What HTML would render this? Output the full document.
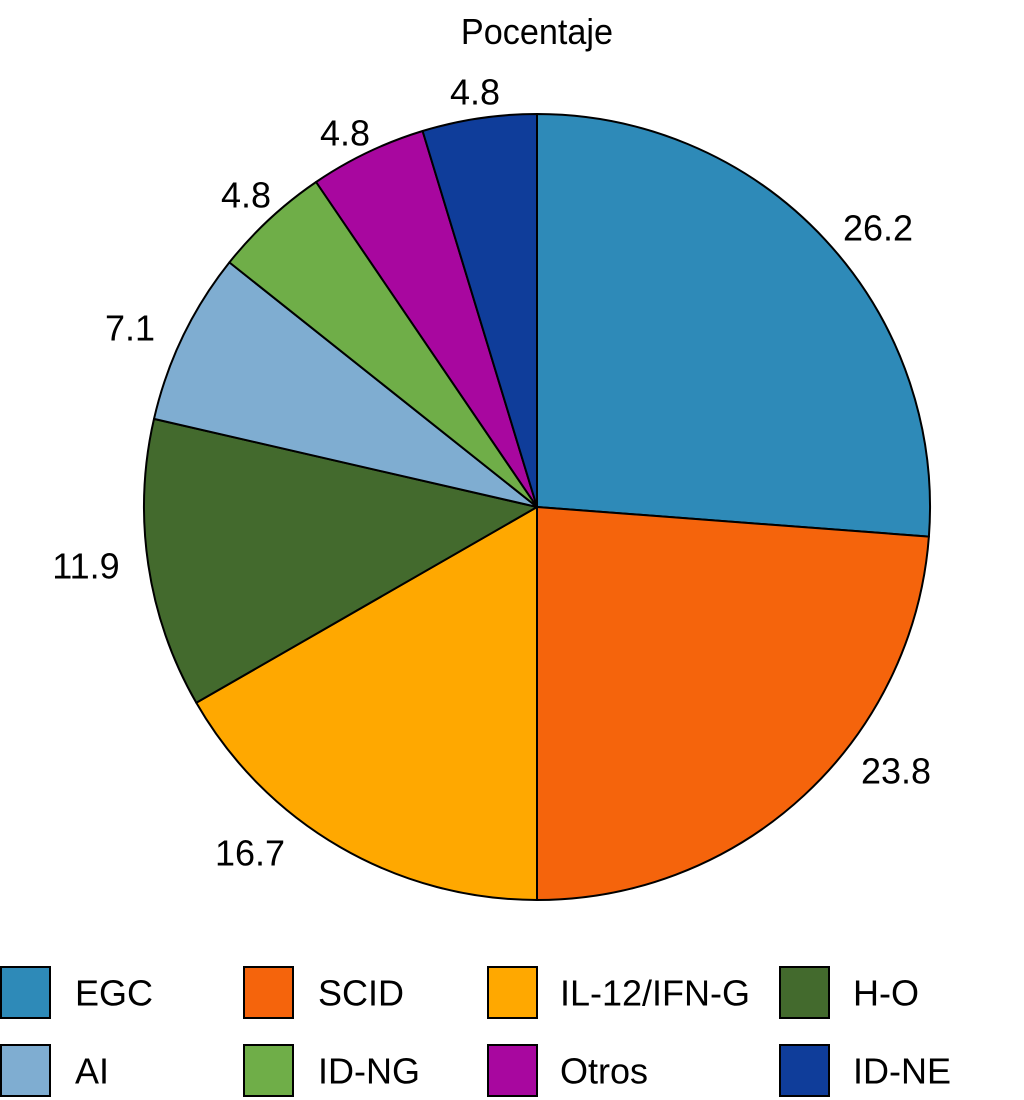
<!DOCTYPE html>
<html><head><style>body{margin:0;background:#fff}svg{display:block}text{font-family:"Liberation Sans",sans-serif;font-size:36px;fill:#000}</style></head>
<body>
<svg width="1024" height="1100" viewBox="0 0 1024 1100">
<g stroke="#000" stroke-width="2" stroke-linejoin="round">
<path d="M537,507 L537,114 A393,393 0 0 1 928.9,536.6 Z" fill="#2E8AB8"/>
<path d="M537,507 L928.9,536.6 A393,393 0 0 1 537,900 Z" fill="#F5640C"/>
<path d="M537,507 L537,900 A393,393 0 0 1 196.3,702.8 Z" fill="#FFA800"/>
<path d="M537,507 L196.3,702.8 A393,393 0 0 1 154,418.9 Z" fill="#436A2D"/>
<path d="M537,507 L154,418.9 A393,393 0 0 1 229.4,262.4 Z" fill="#7FADD1"/>
<path d="M537,507 L229.4,262.4 A393,393 0 0 1 316.1,182 Z" fill="#6FAE48"/>
<path d="M537,507 L316.1,182 A393,393 0 0 1 422.6,131 Z" fill="#A8079F"/>
<path d="M537,507 L422.6,131 A393,393 0 0 1 537,114 Z" fill="#0F3D9A"/>
</g>
<g text-anchor="middle" dominant-baseline="central">
<text x="537" y="32" transform="translate(537,0) scale(0.95,1) translate(-537,0)">Pocentaje</text>
<text x="475" y="92">4.8</text>
<text x="345" y="133">4.8</text>
<text x="246" y="195">4.8</text>
<text x="130" y="328">7.1</text>
<text x="86" y="566">11.9</text>
<text x="250" y="853">16.7</text>
<text x="896" y="771">23.8</text>
<text x="878" y="228">26.2</text>
</g>
<g stroke="#000" stroke-width="2">
<rect x="1" y="967" width="49" height="51" fill="#2E8AB8"/>
<rect x="244" y="967" width="49" height="51" fill="#F5640C"/>
<rect x="488" y="967" width="49" height="51" fill="#FFA800"/>
<rect x="780" y="967" width="49" height="51" fill="#436A2D"/>
<rect x="1" y="1045" width="49" height="51" fill="#7FADD1"/>
<rect x="244" y="1045" width="49" height="51" fill="#6FAE48"/>
<rect x="488" y="1045" width="49" height="51" fill="#A8079F"/>
<rect x="780" y="1045" width="49" height="51" fill="#0F3D9A"/>
</g>
<g dominant-baseline="central">
<text x="75" y="993">EGC</text>
<text x="318" y="993">SCID</text>
<text x="560" y="993">IL-12/IFN-G</text>
<text x="853" y="993">H-O</text>
<text x="75" y="1071">AI</text>
<text x="318" y="1071">ID-NG</text>
<text x="560" y="1071">Otros</text>
<text x="853" y="1071">ID-NE</text>
</g>
</svg>
</body></html>
